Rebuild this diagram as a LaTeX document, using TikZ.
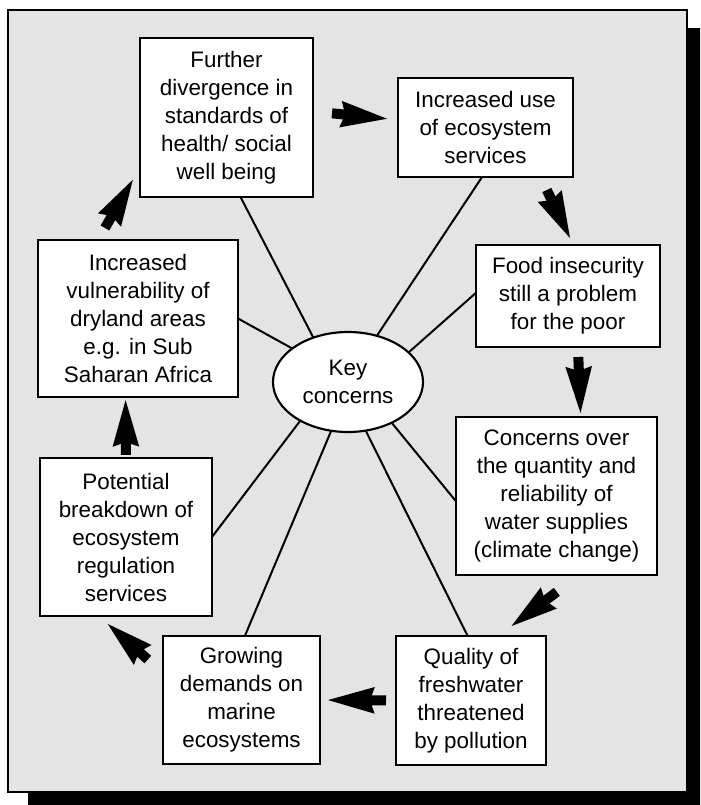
\documentclass[tikz,border=0pt]{standalone}
\usepackage{fontspec}
\setmainfont{Liberation Sans}
\usetikzlibrary{arrows.meta,shapes.geometric}
\definecolor{panelgrey}{HTML}{E4E4E4}

\begin{document}
\begin{tikzpicture}[x=0.75pt,y=-0.75pt]
\tikzset{concern/.style={draw,line width=1.6pt,fill=white,align=center,inner sep=0pt,outer sep=0pt,font=\fontsize{16.8}{21}\selectfont},
  flow/.style={line width=7.5pt,-{Stealth[length=35pt,width=20pt,inset=3.5pt,line width=0pt]}},
  spoke/.style={line width=1.5pt}}
\useasboundingbox (0,0) rectangle (700,805);
\clip (0,0) rectangle (700,805);
% panel with drop shadow
\fill (28,28) rectangle (712,817);
\draw[fill=panelgrey,line width=1.1pt] (8,10) rectangle (687,792);
\node[concern,ellipse,minimum width=112.5pt,minimum height=75pt] (key) at (348,382) {Key\\concerns};
\node[concern,minimum width=129.8pt,minimum height=119.3pt] (b1) at (226.5,117.5) {Further\\divergence in\\standards of\\health/ social\\well being};
\node[concern,minimum width=131.3pt,minimum height=74.3pt] (b2) at (485.5,127.5) {Increased use\\of ecosystem\\services};
\node[concern,minimum width=138pt,minimum height=76.5pt] (b3) at (568,296) {Food insecurity\\still a problem\\for the poor};
\node[concern,minimum width=150.8pt,minimum height=118.5pt] (b4) at (556.5,496) {Concerns over\\the quantity and\\reliability of\\water supplies\\(climate change)};
\node[concern,minimum width=112.5pt,minimum height=96.8pt] (b5) at (471,700.5) {Quality of\\freshwater\\threatened\\by pollution};
\node[concern,minimum width=117.8pt,minimum height=96pt] (b6) at (241.5,700) {Growing\\demands on\\marine\\ecosystems};
\node[concern,minimum width=129pt,minimum height=118.5pt] (b7) at (126,537) {Potential\\breakdown of\\ecosystem\\regulation\\services};
\node[concern,minimum width=150pt,minimum height=117.8pt] (b8) at (138,318.5) {Increased\\vulnerability of\\dryland areas\\e.g. in Sub\\Saharan Africa};
% spokes from the centre
\draw[spoke] (key.128) -- (b1.-80);
\draw[spoke] (key.58) -- (b2.266);
\draw[spoke] (key.26) -- (b3.178);
\draw[spoke] (key.-43) -- (b4.183);
\draw[spoke] (key.290) -- (b5.93);
\draw[spoke] (key.251) -- (b6.87);
\draw[spoke] (key.219) -- (b7.0);
\draw[spoke] (key.149) -- (b8.0);
% cycle arrows
\draw[flow,shorten <=14.3pt,shorten >=8.3pt] (b1.4) -- (b2.175);
\draw[flow,shorten <=10.8pt,shorten >=5.8pt] (b2.-42) -- (b3.84);
\draw[flow,shorten <=7.5pt,shorten >=3pt] (b3.-79) -- (b4.73);
\draw[flow,shorten <=21pt,shorten >=12.4pt] (b4.-74) -- (b5.67);
\draw[flow,shorten <=7.5pt,shorten >=6pt] (b5.180) -- (b6.0);
\draw[flow,shorten <=15.2pt,shorten >=9pt] (b6.161) -- (b7.251);
\draw[flow,shorten <=2.3pt,shorten >=2.3pt] (b7.90) -- (b8.-99);
\draw[flow,shorten <=10.4pt,shorten >=10.6pt] (b8.117) -- (b1.210);
\end{tikzpicture}
\end{document}
